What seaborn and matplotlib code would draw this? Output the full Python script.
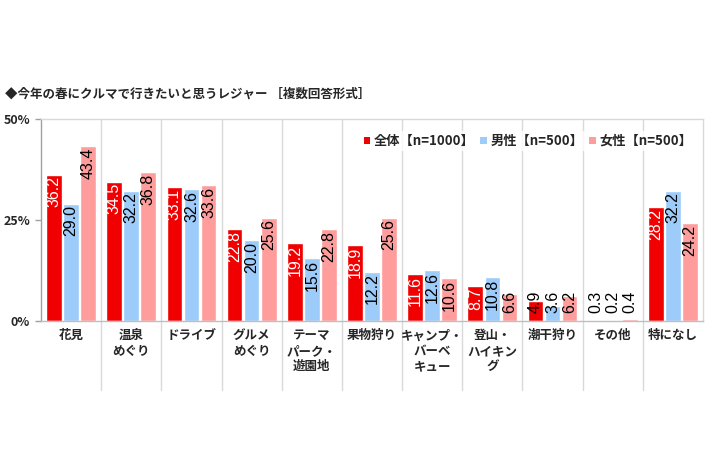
import matplotlib
matplotlib.use("Agg")
import matplotlib.pyplot as plt
import seaborn as sns
import pandas as pd
from matplotlib.patches import Patch
from matplotlib import font_manager

categories = ["花見", "温泉\nめぐり", "ドライブ", "グルメ\nめぐり", "テーマ\nパーク・\n遊園地",
              "果物狩り", "キャンプ・\nバーベ\nキュー", "登山・\nハイキン\nグ", "潮干狩り", "その他", "特になし"]
series = ["全体【n=1000】", "男性【n=500】", "女性【n=500】"]
total = [36.2, 34.5, 33.1, 22.8, 19.2, 18.9, 11.6, 8.7, 4.9, 0.3, 28.2]
male = [29.0, 32.2, 32.6, 20.0, 15.6, 12.2, 12.6, 10.8, 3.6, 0.2, 32.2]
female = [43.4, 36.8, 33.6, 25.6, 22.8, 25.6, 10.6, 6.6, 6.2, 0.4, 24.2]
yticks = [0, 25, 50]
title = "◆今年の春にクルマで行きたいと思うレジャー ［複数回答形式］"

colors = ["#F00000", "#9DCBFA", "#FF9C9C"]

rows = []
for s, vals in zip(series, [total, male, female]):
    for c, v in zip(categories, vals):
        rows.append({"category": c, "series": s, "value": v})
df = pd.DataFrame(rows)

sns.set_theme(style="white")
cjk = ["Noto Sans CJK JP", "DejaVu Sans"]
plt.rcParams["font.family"] = cjk

names = {f.name for f in font_manager.fontManager.ttflist}
numfam = ["Liberation Sans Narrow"] if "Liberation Sans Narrow" in names else ["Liberation Sans"]
numsize = 13 if numfam[0] == "Liberation Sans Narrow" else 11.5

fig = plt.figure(figsize=(7.1, 4.73), dpi=100)
ax = fig.add_axes([41/710, 1-321/473, (703-41)/710, (321-119)/473])

sns.barplot(data=df, x="category", y="value", hue="series", palette=colors,
            width=0.85, gap=0.08, ax=ax, legend=False, saturation=1)

ax.set_ylim(0, 50)
ax.set_xlim(-0.5, len(categories) - 0.5)
ax.set_yticks(yticks)
ax.set_yticklabels([f"{t}%" for t in yticks], fontsize=9, fontweight="bold")
ax.set_xticks(range(len(categories)))
ax.set_xticklabels(categories, fontsize=9, fontweight="bold", linespacing=1.25, va="top")
ax.tick_params(axis="x", length=0, pad=6)
ax.tick_params(axis="y", length=4, width=1, color="#A0A0A0", pad=4, direction="out", left=True)
ax.set_xlabel("")
ax.set_ylabel("")

for side in ["top", "right"]:
    ax.spines[side].set_visible(True)
    ax.spines[side].set_color("#D9D9D9")
    ax.spines[side].set_linewidth(1)
ax.spines["left"].set_color("#A0A0A0")
ax.spines["bottom"].set_color("#BFBFBF")
ax.spines["left"].set_linewidth(1)
ax.spines["bottom"].set_linewidth(1)

# category separators
for k in range(1, len(categories)):
    ax.axvline(k - 0.5, ymin=-0.34, ymax=1, color="#D9D9D9", lw=1, clip_on=False, zorder=0)

# data labels
fig.canvas.draw()
renderer = fig.canvas.get_renderer()
px_per_unit = ax.transData.transform((0, 1))[1] - ax.transData.transform((0, 0))[1]
for ci, cont in enumerate(ax.containers):
    for bar, v in zip(cont, [total, male, female][ci]):
        txt = f"{v:.1f}"
        color = "white" if (ci == 0 and v >= 8) else "black"
        t = ax.text(bar.get_x() + bar.get_width() / 2, v - 0.4, txt, rotation=90,
                    ha="center", va="top", fontsize=numsize, color=color,
                    family=numfam)
        L = t.get_window_extent(renderer).height / px_per_unit
        t.set_y(max(v - 0.4, 2.0 + L))

handles = [Patch(facecolor=c, edgecolor="none") for c in colors]
leg = fig.legend(handles, series, loc="center", bbox_to_anchor=(528/710, 1-141/473),
                 ncol=3, frameon=True, fontsize=9.5, handlelength=0.5, handleheight=0.5,
                 handletextpad=0.3, columnspacing=0.4, borderpad=0.2)
leg.get_frame().set_facecolor("white")
leg.get_frame().set_edgecolor("none")
for t in leg.get_texts():
    t.set_fontweight("bold")

fig.text(5/710, 1-94/473, title, fontsize=9, fontweight="bold", va="center", ha="left")

fig.savefig("out.png", dpi=100, facecolor="white")
